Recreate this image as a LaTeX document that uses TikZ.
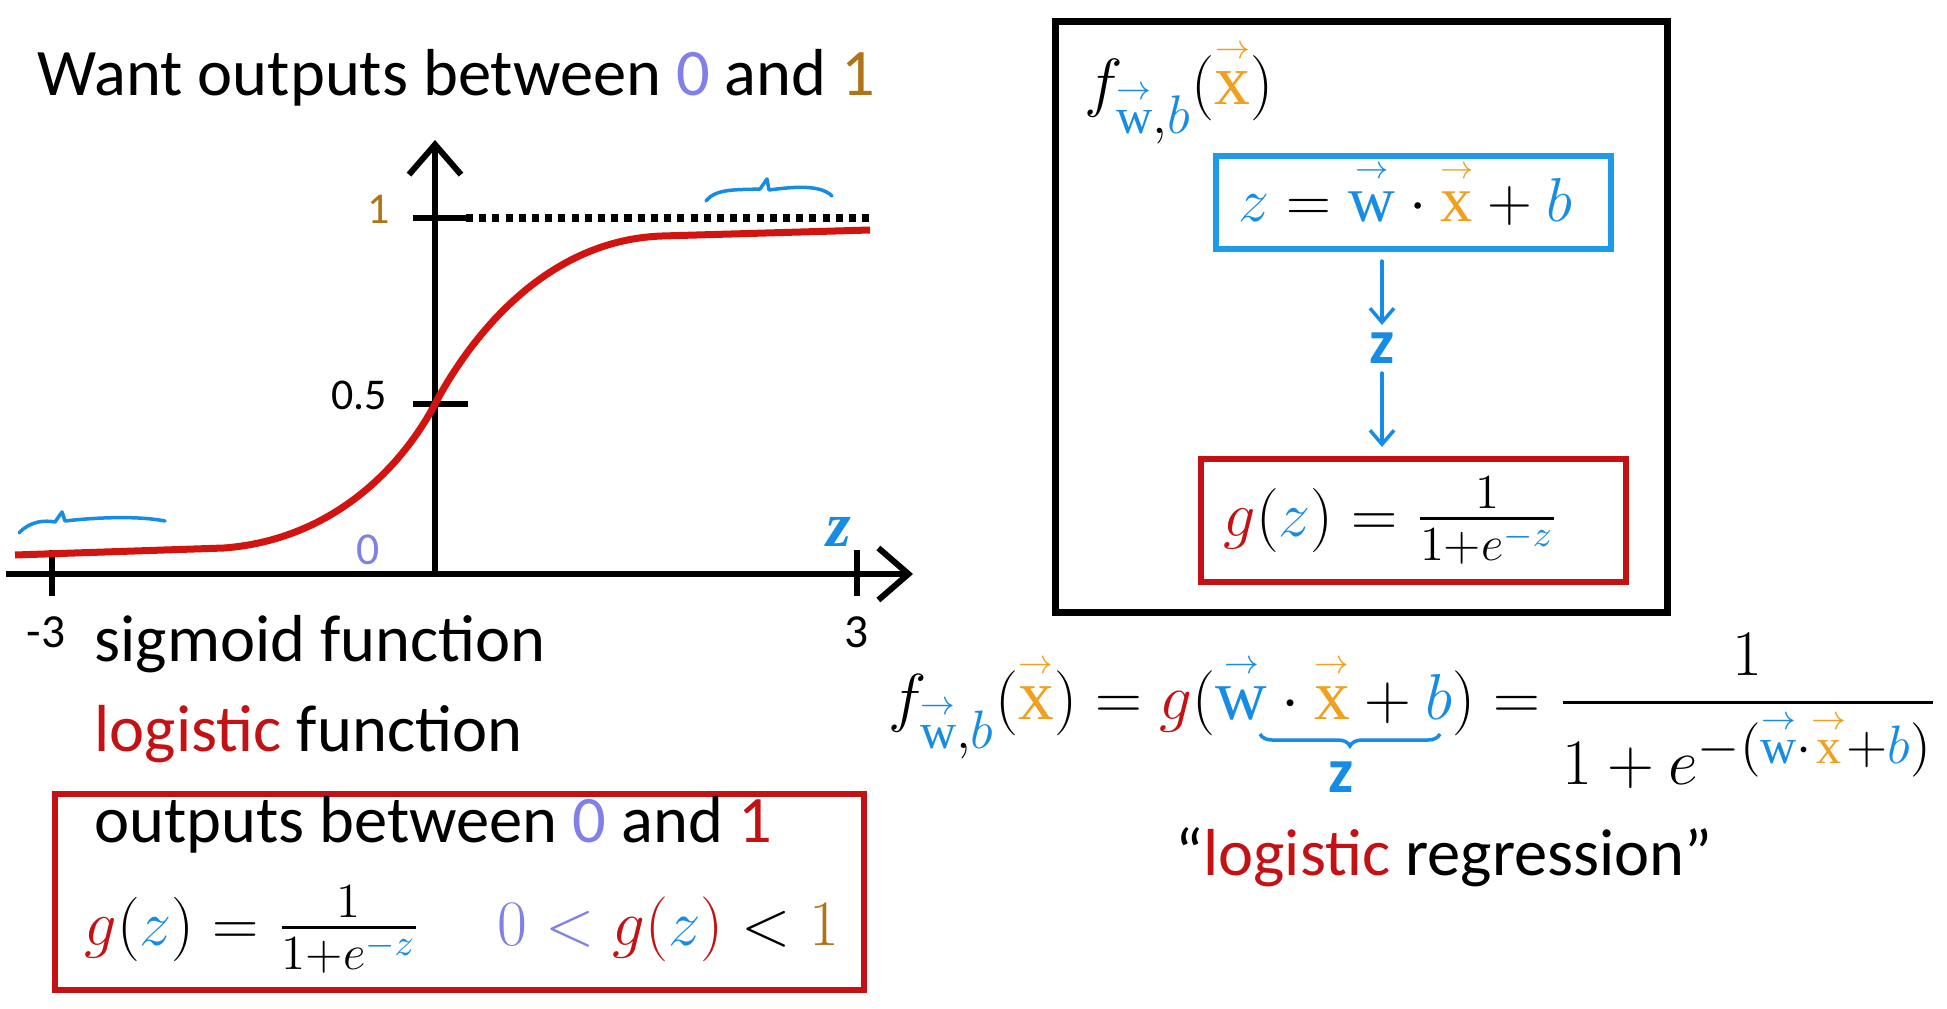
\documentclass[tikz,border=0pt]{standalone}
\usepackage{amsmath}
\usepackage{graphicx}
\usepackage{fontspec}
\setmainfont{Carlito}
\newfontfamily\serifz{Liberation Serif}
\usetikzlibrary{arrows.meta,decorations.pathreplacing}
\definecolor{zb}{RGB}{22,140,228}
\definecolor{xo}{RGB}{240,160,30}
\definecolor{rd}{RGB}{196,18,20}
\definecolor{pz}{RGB}{128,128,232}
\definecolor{brn}{RGB}{176,116,24}
\definecolor{boxb}{RGB}{30,155,232}
\definecolor{curvered}{RGB}{210,20,16}
\newcommand{\vW}{{\color{zb}\overset{\scriptscriptstyle\rightarrow}{\text{\serifz w}}}}
\newcommand{\vX}{{\color{xo}\overset{\scriptscriptstyle\rightarrow}{\text{\serifz x}}}}
\newcommand{\zB}{{\color{zb}z}}
\newcommand{\bB}{{\color{zb}b}}
\newcommand{\gR}{{\color{rd}g}}
\newcommand{\sigfrac}{\scalebox{1.1}{$\frac{1}{1+e^{\color{zb}-z}}$}}
\begin{document}
\begin{tikzpicture}[x=0.01cm,y=-0.01cm,
  axis/.style={line width=0.06cm,-{Straight Barb[length=0.3cm,width=0.52cm]}},
  tk/.style={line width=0.06cm},
  lbl/.style={inner sep=0pt,font=\fontsize{12.5}{12.5}\selectfont},
  txt/.style={inner sep=0pt,anchor=base west,font=\fontsize{18.9}{22}\selectfont},
  mth/.style={inner sep=0pt,anchor=base west,font=\fontsize{18}{20}\selectfont},
  bigm/.style={inner sep=0pt,anchor=base west,font=\fontsize{19}{22}\selectfont},
  hz/.style={inner sep=0pt,text=zb,font=\fontsize{18}{18}\selectfont\bfseries},
  hand/.style={draw=zb,line width=0.035cm,line cap=round,line join=round},
  harrow/.style={hand,-{Straight Barb[length=0.14cm,width=0.24cm]}},
  framebox/.style={draw,line width=0.06cm,inner sep=0pt}]
\useasboundingbox[fill=white] (0,0) rectangle (1947,1009);

% ---------- graph ----------
\coordinate (xl) at (6,574);
\coordinate (xr) at (913,574);
\coordinate (o) at (435,574);
\coordinate (yt) at (435,140);
\draw[axis] (xl) -- (xr);
\draw[axis] (o) -- (yt);
\coordinate (t1a) at (413,218); \coordinate (t1b) at (466,218); \coordinate (dotend) at (872,218);
\draw[tk] (t1a) -- (t1b);
\draw[line width=0.075cm,dash pattern=on 0.07cm off 0.062cm] (t1b) -- (dotend);
\coordinate (t5a) at (413,404); \coordinate (t5b) at (468,404);
\draw[tk] (t5a) -- (t5b);
\coordinate (tm3a) at (52,550); \coordinate (tm3b) at (52,596);
\coordinate (tp3a) at (857,550); \coordinate (tp3b) at (857,596);
\draw[tk] (tm3a) -- (tm3b);
\draw[tk] (tp3a) -- (tp3b);

\draw[curvered,line width=0.07cm,line join=round] (15,555) -- (224,548)
  .. controls (330,540) and (400,470) .. (435,404)
  .. controls (470,338) and (545,240) .. (662,236) -- (870,230);

% hand-drawn braces
\draw[hand] (706,201) .. controls (716,188) and (738,190) .. (760,189)
  -- (767,179) -- (769,190) .. controls (792,187) and (820,184) .. (832,196);
\draw[hand] (19,533) .. controls (30,521) and (45,520) .. (55,522)
  -- (62,512) -- (65,521) .. controls (100,517) and (140,516) .. (165,521);

\node[lbl,text=brn] (l1) at (379,209) {1};
\node[lbl] (l05) at (359,395) {0.5};
\node[lbl,text=pz,font=\fontsize{13}{13}\selectfont] (l0) at (368,550) {0};
\node[lbl,font=\fontsize{13.5}{13.5}\selectfont] (lm3) at (46,632) {-3};
\node[lbl,font=\fontsize{13.5}{13.5}\selectfont] (lp3) at (857,632) {3};
\node[inner sep=0pt,text=zb,font=\fontsize{18}{18}\serifz\bfseries\itshape] (zax) at (839,532) {z};

% ---------- left texts ----------
\node[txt] (title) at (37,96) {Want outputs between \textcolor{pz}{0} and \textcolor{brn}{1}};
\node[txt] (sig) at (94,661) {sigmoid function};
\node[txt] (logf) at (94,751) {\textcolor{rd}{logistic} function};
\node[framebox,draw=rd,minimum width=8.09cm,minimum height=1.96cm] (leftbox) at (459.5,892) {};
\node[txt] (outs) at (94,842) {outputs between \textcolor{pz}{0} and \textcolor{rd}{1}};
\node[mth] (gl) at (84,945) {\resizebox{3.36cm}{!}{$\gR(\zB) = \sigfrac$}};
\node[mth] (ineq) at (497,945) {\resizebox{3.41cm}{!}{${\color{pz}0}\mathrel{\color{pz}<}\gR{\color{rd}(}\zB{\color{rd})}<{\color{brn}1}$}};

% ---------- right block ----------
\node[framebox,draw=black,line width=0.07cm,minimum width=6.11cm,minimum height=5.90cm] (outer) at (1361.5,317) {};
\node[bigm] (fhead) at (1084,104) {\resizebox{1.89cm}{!}{$f_{\vW,\bB}(\vX)$}};
\node[framebox,draw=boxb,minimum width=3.95cm,minimum height=0.93cm] (zbox) at (1413.5,202.5) {};
\node[mth] (zeq) at (1238,221) {\resizebox{3.33cm}{!}{$\zB = \vW\cdot\vX + \bB$}};
\node[hz] (zmid) at (1382,348) {z};
\node[framebox,draw=rd,minimum width=4.25cm,minimum height=1.23cm] (gbox) at (1413.5,520.5) {};
\node[mth] (geq) at (1223,536) {\resizebox{3.35cm}{!}{$\gR(\zB) = \sigfrac$}};
\draw[harrow,shorten <=0.09cm,shorten >=0.07cm] (zmid |- zbox.south) -- (zmid.north);
\draw[harrow,shorten <=0.09cm,shorten >=0.09cm] (zmid.south) -- (zmid |- gbox.north);

% ---------- bottom formula ----------
\node[bigm] (big) at (888,719) {\resizebox{10.48cm}{!}{$\displaystyle f_{\vW,\bB}(\vX) = \gR(\vW\cdot\vX+\bB) = \frac{1}{1+e^{-(\vW\cdot\vX+\bB)}}$}};
\coordinate (brl) at (1260,734);
\coordinate (brr) at (1440,734);
\draw[draw=zb,line width=0.035cm,decorate,decoration={brace,mirror,amplitude=0.12cm}] (brl) -- (brr);
\node[hz] (zund) at (1341,777) {z};
\node[txt,anchor=base] (lr) at (1444,875) {“\textcolor{rd}{logistic} regression”};
\end{tikzpicture}
\end{document}
